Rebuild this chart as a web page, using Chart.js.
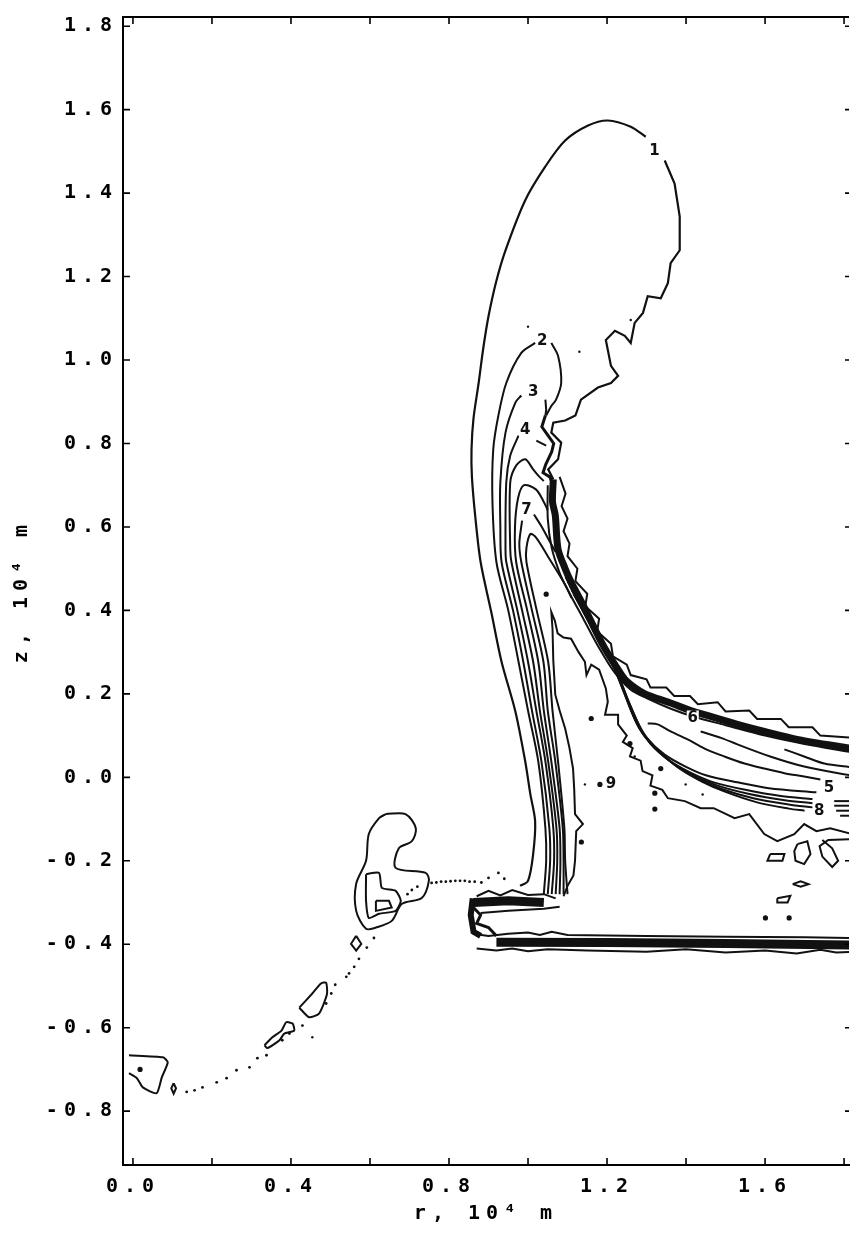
<!DOCTYPE html>
<html>
<head>
<meta charset="utf-8">
<script src="https://cdn.jsdelivr.net/npm/chart.js@4.4.0/dist/chart.umd.min.js"></script>
<style>
  html, body { margin: 0; padding: 0; background: #fff; }
  canvas { display: block; }
</style>
</head>
<body>
<canvas id="plot" width="853" height="1235"></canvas>
<script>
// axis ticks (r and z in 10^4 m)
const rTicks = [0, 0.4, 0.8, 1.2, 1.6];
const rMinorTicks = [0, 0.2, 0.4, 0.6, 0.8, 1.0, 1.2, 1.4, 1.6, 1.8];
const zTicks = [-0.8, -0.6, -0.4, -0.2, 0, 0.2, 0.4, 0.6, 0.8, 1.0, 1.2, 1.4, 1.6, 1.8];

// contour 1, outer plume
const c1a = [[0.98,-0.26],[1.0,-0.248],[1.013,-0.184],[1.018,-0.105],[1.006,-0.041],[0.993,0.038],[0.968,0.158],[0.933,0.277],[0.907,0.396],[0.88,0.516],[0.867,0.62],[0.858,0.72],[0.857,0.786],[0.862,0.86],[0.875,0.945],[0.887,1.03],[0.90,1.105],[0.92,1.19],[0.943,1.263],[0.993,1.383],[1.044,1.464],[1.094,1.526],[1.152,1.562],[1.202,1.574],[1.26,1.559],[1.298,1.535]];
const c1b = [[1.346,1.478],[1.371,1.423],[1.384,1.344],[1.384,1.263],[1.361,1.232],[1.354,1.184],[1.336,1.148],[1.303,1.153],[1.291,1.113],[1.27,1.089],[1.26,1.041],[1.245,1.058],[1.22,1.07],[1.197,1.048],[1.21,0.986],[1.228,0.962],[1.21,0.945],[1.177,0.934],[1.134,0.905],[1.12,0.867],[1.094,0.855],[1.064,0.85],[1.059,0.826],[1.084,0.802],[1.076,0.762],[1.051,0.738],[1.064,0.714]];

// plume bundle, contours 2..8
const c2a = [[1.04,-0.28],[1.046,-0.2],[1.044,-0.122],[1.026,0.038],[1.0,0.16],[0.976,0.277],[0.95,0.4],[0.92,0.516],[0.91,0.66],[0.912,0.786],[0.925,0.867],[0.945,0.945],[0.983,1.017],[1.018,1.041]];
const c2b = [[1.059,1.041],[1.076,1.01],[1.084,0.945],[1.071,0.905],[1.059,0.89],[1.046,0.867]];
const c3a = [[1.05,-0.28],[1.056,-0.2],[1.054,-0.122],[1.034,0.038],[1.01,0.16],[0.988,0.277],[0.962,0.4],[0.933,0.516],[0.93,0.6],[0.93,0.707],[0.943,0.826],[0.968,0.898],[0.983,0.915]];
const c3b = [[1.044,0.905],[1.046,0.881],[1.044,0.867]];
const c4a = [[1.06,-0.28],[1.066,-0.2],[1.064,-0.122],[1.044,0.038],[1.021,0.16],[1.0,0.277],[0.973,0.4],[0.945,0.516],[0.943,0.547],[0.945,0.707],[0.955,0.771],[0.976,0.819]];
const c4b = [[1.021,0.807],[1.046,0.795]];
const c5 = [[1.07,-0.28],[1.074,-0.2],[1.072,-0.122],[1.051,0.038],[1.03,0.16],[1.013,0.277],[0.985,0.4],[0.958,0.516],[0.955,0.547],[0.955,0.707],[0.97,0.747],[0.993,0.762],[1.013,0.738],[1.026,0.723],[1.04,0.71]];
const c6 = [[1.08,-0.28],[1.082,-0.2],[1.08,-0.122],[1.059,0.038],[1.04,0.16],[1.026,0.277],[0.998,0.4],[0.97,0.516],[0.967,0.6],[0.975,0.67],[0.99,0.70],[1.02,0.69],[1.04,0.66],[1.05,0.64]];
const c7a = [[1.09,-0.28],[1.09,-0.2],[1.088,-0.122],[1.069,0.038],[1.05,0.16],[1.039,0.277],[1.01,0.4],[0.983,0.516],[0.978,0.56],[0.985,0.615]];
const c7b = [[1.015,0.63],[1.035,0.6],[1.055,0.565],[1.07,0.54]];
const c8 = [[1.10,-0.28],[1.094,-0.2],[1.092,-0.122],[1.076,0.038],[1.062,0.16],[1.051,0.277],[1.022,0.4],[0.996,0.516],[0.996,0.55],[1.006,0.583],[1.02,0.575],[1.05,0.53],[1.076,0.49],[1.095,0.46],[1.11,0.43]];
const jagTop = [[1.044,0.867],[1.035,0.84],[1.05,0.82],[1.065,0.80],[1.06,0.78],[1.045,0.75],[1.038,0.73],[1.055,0.72],[1.064,0.70],[1.062,0.66]];

// dense upper arc
const bandCore = [[1.064,0.714],[1.062,0.66],[1.069,0.628],[1.076,0.547],[1.094,0.5],[1.109,0.468],[1.13,0.43],[1.152,0.389],[1.177,0.34],[1.195,0.308],[1.22,0.27],[1.245,0.235],[1.27,0.215],[1.296,0.2],[1.33,0.188],[1.361,0.178],[1.412,0.16],[1.462,0.146],[1.53,0.127],[1.598,0.11],[1.681,0.091],[1.82,0.069]];
const bandTop = [[1.08,0.72],[1.095,0.68],[1.085,0.65],[1.10,0.62],[1.09,0.59],[1.105,0.56],[1.10,0.53],[1.125,0.50],[1.12,0.47],[1.15,0.44],[1.145,0.41],[1.18,0.38],[1.175,0.35],[1.21,0.32],[1.215,0.29],[1.25,0.27],[1.26,0.245],[1.30,0.235],[1.31,0.215],[1.35,0.215],[1.37,0.195],[1.41,0.195],[1.43,0.175],[1.48,0.18],[1.50,0.158],[1.56,0.16],[1.58,0.14],[1.64,0.14],[1.66,0.12],[1.72,0.12],[1.74,0.10],[1.82,0.095]];
const bandLow = [[1.05,0.70],[1.05,0.62],[1.06,0.55],[1.08,0.49],[1.10,0.45],[1.14,0.38],[1.18,0.31],[1.22,0.25],[1.26,0.21],[1.30,0.19],[1.36,0.165],[1.42,0.145],[1.50,0.125],[1.60,0.1],[1.70,0.08],[1.82,0.06]];

// lower arc family (contours 5..8 right side)
const f1 = [[1.095,0.48],[1.135,0.41],[1.175,0.34],[1.21,0.28],[1.24,0.21],[1.27,0.14],[1.30,0.095],[1.345,0.055],[1.40,0.025],[1.45,0.005],[1.53,-0.012],[1.61,-0.026],[1.73,-0.036]];
const f2 = [[1.10,0.47],[1.14,0.40],[1.18,0.33],[1.215,0.27],[1.245,0.20],[1.275,0.13],[1.31,0.08],[1.355,0.042],[1.41,0.012],[1.47,-0.012],[1.55,-0.03],[1.64,-0.045],[1.72,-0.052]];
const f3 = [[1.105,0.46],[1.145,0.39],[1.185,0.32],[1.22,0.26],[1.25,0.19],[1.28,0.12],[1.32,0.072],[1.365,0.035],[1.42,0.004],[1.48,-0.02],[1.56,-0.04],[1.65,-0.055],[1.72,-0.062]];
const f4 = [[1.11,0.45],[1.15,0.38],[1.19,0.31],[1.225,0.25],[1.255,0.18],[1.29,0.11],[1.33,0.063],[1.375,0.027],[1.43,-0.004],[1.49,-0.028],[1.57,-0.05],[1.66,-0.065],[1.72,-0.072]];
const f5 = [[1.115,0.44],[1.155,0.37],[1.195,0.30],[1.23,0.24],[1.26,0.17],[1.295,0.10],[1.34,0.055],[1.385,0.02],[1.44,-0.01],[1.50,-0.035],[1.58,-0.06],[1.66,-0.075],[1.70,-0.08]];
const tails = [[[1.775,-0.057],[1.82,-0.057]],[[1.775,-0.068],[1.82,-0.068]],[[1.78,-0.08],[1.82,-0.08]],[[1.79,-0.092],[1.82,-0.092]]];
const m1 = [[1.303,0.129],[1.328,0.127],[1.361,0.11],[1.404,0.091],[1.447,0.069],[1.497,0.05],[1.548,0.033],[1.598,0.021],[1.649,0.01],[1.699,0.002],[1.74,-0.005]];
const m2 = [[1.437,0.11],[1.49,0.094],[1.53,0.079],[1.613,0.05],[1.699,0.026],[1.82,0.004]];
const m3 = [[1.649,0.067],[1.699,0.05],[1.75,0.033],[1.82,0.024]];

// jagged inner contour
const jag = [[1.09,-0.285],[1.10,-0.26],[1.115,-0.235],[1.119,-0.2],[1.122,-0.129],[1.139,-0.112],[1.119,-0.088],[1.117,-0.03],[1.114,0.021],[1.105,0.07],[1.094,0.117],[1.08,0.16],[1.069,0.198],[1.064,0.28],[1.062,0.356],[1.059,0.396],[1.068,0.375],[1.075,0.345],[1.09,0.335],[1.109,0.332],[1.128,0.3],[1.144,0.277],[1.148,0.245],[1.16,0.27],[1.18,0.258],[1.197,0.213],[1.202,0.181],[1.195,0.15],[1.228,0.15],[1.228,0.127],[1.25,0.10],[1.24,0.085],[1.265,0.07],[1.258,0.05],[1.285,0.04],[1.29,0.015],[1.315,0.005],[1.31,-0.02],[1.34,-0.03],[1.354,-0.05],[1.397,-0.057],[1.437,-0.074],[1.47,-0.074],[1.523,-0.098],[1.56,-0.088],[1.598,-0.136],[1.631,-0.153],[1.674,-0.136],[1.699,-0.112],[1.73,-0.129],[1.765,-0.122],[1.82,-0.136]];
const loopB = [[1.682,-0.16],[1.707,-0.153],[1.715,-0.184],[1.699,-0.208],[1.677,-0.2],[1.674,-0.177],[1.682,-0.16]];
const loopC = [[1.613,-0.184],[1.649,-0.184],[1.644,-0.2],[1.606,-0.2],[1.613,-0.184]];
const loopD = [[1.745,-0.15],[1.77,-0.17],[1.785,-0.2],[1.77,-0.215],[1.745,-0.19],[1.738,-0.165],[1.76,-0.15],[1.82,-0.148]];
const loopE = [[1.67,-0.256],[1.69,-0.249],[1.71,-0.256],[1.69,-0.262],[1.67,-0.256]];
const loopF = [[1.631,-0.29],[1.664,-0.284],[1.657,-0.3],[1.631,-0.3],[1.631,-0.29]];

// base structures
const shelfCore = [[0.862,-0.30],[0.95,-0.296],[1.04,-0.30]];
const shelfTop = [[0.87,-0.285],[0.9,-0.272],[0.93,-0.283],[0.96,-0.27],[1.0,-0.282],[1.04,-0.28],[1.07,-0.29]];
const shelfLow = [[0.88,-0.325],[0.95,-0.32],[1.04,-0.315],[1.08,-0.31]];
const baseLeft = [[0.86,-0.29],[0.855,-0.33],[0.862,-0.37],[0.88,-0.38]];
const baseMid = [[0.86,-0.31],[0.88,-0.33],[0.87,-0.35],[0.9,-0.36],[0.92,-0.38]];
const floorCore = [[0.92,-0.395],[1.2,-0.396],[1.5,-0.398],[1.82,-0.402]];
const floorTop = [[0.86,-0.375],[0.9,-0.38],[0.95,-0.375],[1.0,-0.372],[1.03,-0.378],[1.06,-0.37],[1.1,-0.378],[1.3,-0.38],[1.5,-0.382],[1.7,-0.383],[1.82,-0.385]];
const floorLow = [[0.87,-0.41],[0.92,-0.415],[0.96,-0.41],[1.0,-0.417],[1.05,-0.412],[1.15,-0.415],[1.3,-0.418],[1.4,-0.412],[1.5,-0.42],[1.6,-0.415],[1.68,-0.422],[1.74,-0.413],[1.78,-0.42],[1.82,-0.418]];

// left blobs
const blobOuter = [[0.64,-0.088],[0.69,-0.088],[0.716,-0.122],[0.706,-0.153],[0.673,-0.17],[0.665,-0.217],[0.741,-0.229],[0.749,-0.248],[0.731,-0.289],[0.681,-0.303],[0.655,-0.344],[0.615,-0.36],[0.59,-0.363],[0.565,-0.32],[0.565,-0.255],[0.59,-0.2],[0.597,-0.136],[0.623,-0.098],[0.64,-0.088]];
const blobInner = [[0.59,-0.232],[0.623,-0.229],[0.63,-0.265],[0.665,-0.272],[0.678,-0.296],[0.665,-0.32],[0.623,-0.327],[0.597,-0.337],[0.59,-0.296],[0.59,-0.232]];
const blobCore = [[0.615,-0.296],[0.648,-0.296],[0.655,-0.312],[0.615,-0.32],[0.615,-0.296]];
const diamond1 = [[0.565,-0.38],[0.578,-0.399],[0.565,-0.415],[0.552,-0.399],[0.565,-0.38]];
const blobA = [[0.421,-0.552],[0.454,-0.518],[0.476,-0.494],[0.489,-0.492],[0.491,-0.52],[0.471,-0.566],[0.446,-0.575],[0.421,-0.552]];
const blobB = [[0.333,-0.642],[0.353,-0.623],[0.376,-0.607],[0.388,-0.587],[0.404,-0.59],[0.408,-0.607],[0.383,-0.614],[0.371,-0.63],[0.34,-0.649],[0.333,-0.642]];
const originBlob = [[-0.01,-0.666],[0.076,-0.671],[0.088,-0.683],[0.073,-0.719],[0.06,-0.757],[0.025,-0.743],[0.01,-0.721],[-0.01,-0.709]];
const diamond2 = [[0.103,-0.733],[0.109,-0.745],[0.103,-0.758],[0.097,-0.745],[0.103,-0.733]];

// dotted path and isolated points
const dotsPath = [[0.756,-0.253],[0.768,-0.252],[0.78,-0.25],[0.792,-0.25],[0.804,-0.249],[0.816,-0.248],[0.828,-0.248],[0.84,-0.248],[0.852,-0.25],[0.865,-0.25],[0.882,-0.252],[0.9,-0.241],[0.925,-0.229],[0.94,-0.243],[0.72,-0.262],[0.706,-0.27],[0.695,-0.28],[0.61,-0.385],[0.592,-0.408],[0.572,-0.435],[0.56,-0.454],[0.547,-0.47],[0.54,-0.478],[0.512,-0.497],[0.502,-0.518],[0.489,-0.542],[0.429,-0.595],[0.396,-0.614],[0.378,-0.63],[0.338,-0.666],[0.315,-0.673],[0.295,-0.695],[0.262,-0.702],[0.237,-0.721],[0.212,-0.731],[0.176,-0.743],[0.156,-0.75],[0.136,-0.754]];
const bigDots = [[1.046,0.439],[1.135,-0.155],[1.182,-0.017],[1.16,0.141],[1.258,0.081],[1.336,0.021],[1.321,-0.038],[1.321,-0.076],[1.601,-0.337],[1.661,-0.337],[0.018,-0.70]];
const smallDots = [[1.144,-0.017],[1.26,1.096],[1.399,-0.017],[1.442,-0.041],[0.454,-0.623],[1.0,1.08],[1.13,1.02],[1.27,0.05]];

// contour labels
const labelText = ['1', '2', '3', '4', '7', '6', '5', '8', '9'];
const labelR = [1.32, 1.036, 1.013, 0.993, 0.996, 1.417, 1.762, 1.737, 1.21];
const labelZ = [1.50, 1.046, 0.922, 0.833, 0.64, 0.141, -0.026, -0.081, -0.017];

const ink = '#111';
const mono = '"DejaVu Sans Mono", monospace';

function line(pts, w = 2, tension = 0) {
  return {
    data: pts.map(([x, y]) => ({ x, y })),
    showLine: true, borderColor: ink, borderWidth: w,
    pointRadius: 0, tension, fill: false
  };
}
function dots(pts, r) {
  return {
    data: pts.map(([x, y]) => ({ x, y })),
    showLine: false, pointRadius: r, pointBackgroundColor: ink,
    pointBorderWidth: 0
  };
}

const datasets = [
  line(c1a, 2.2, 0.3), line(c1b, 2.2),
  line(c2a, 2, 0.3), line(c2b, 2, 0.3),
  line(c3a, 2, 0.3), line(c3b, 2),
  line(c4a, 2, 0.3), line(c4b, 2),
  line(c5, 2, 0.3), line(c6, 2, 0.3), line(c7a, 2, 0.3), line(c7b, 2, 0.3), line(c8, 2, 0.3),
  line(jagTop, 3),
  line(bandCore, 7, 0.3), line(bandTop, 2), line(bandLow, 2, 0.3),
  line(f1, 2, 0.3), line(f2, 2, 0.3), line(f3, 2, 0.3), line(f4, 2, 0.3), line(f5, 2, 0.3),
  ...tails.map(t => line(t, 2)),
  line(m1, 2, 0.3), line(m2, 2, 0.3), line(m3, 2, 0.3),
  line(jag, 2),
  line(loopB, 2), line(loopC, 2), line(loopD, 2), line(loopE, 2), line(loopF, 2),
  line(shelfCore, 9), line(shelfTop, 2), line(shelfLow, 2), line(baseLeft, 6), line(baseMid, 3),
  line(floorCore, 9), line(floorTop, 2), line(floorLow, 2),
  line(blobOuter, 2, 0.3), line(blobInner, 2, 0.2), line(blobCore, 2), line(diamond1, 2),
  line(blobA, 2, 0.2), line(blobB, 2, 0.2), line(originBlob, 2, 0.2), line(diamond2, 2),
  dots(dotsPath, 1.4), dots(bigDots, 2.6), dots(smallDots, 1.2)
];

const spacing = {
  id: 'spacing',
  beforeUpdate(chart) { chart.ctx.letterSpacing = '6px'; },
  beforeDraw(chart) { chart.ctx.letterSpacing = '6px'; }
};

const frame = {
  id: 'frame',
  afterDatasetsDraw(chart) {
    const { ctx, chartArea: a, scales: { x, y } } = chart;
    ctx.save();
    ctx.letterSpacing = '0px';
    ctx.strokeStyle = '#000';
    ctx.lineWidth = 2;
    ctx.beginPath();
    ctx.moveTo(a.left, a.top);
    ctx.lineTo(a.right, a.top);
    ctx.stroke();
    ctx.lineWidth = 1.6;
    ctx.beginPath();
    rMinorTicks.forEach(v => {
      const px = x.getPixelForValue(v);
      ctx.moveTo(px, a.bottom); ctx.lineTo(px, a.bottom - 7);
      ctx.moveTo(px, a.top); ctx.lineTo(px, a.top + 7);
    });
    zTicks.forEach(v => {
      const py = y.getPixelForValue(v);
      ctx.moveTo(a.left, py); ctx.lineTo(a.left + 7, py);
      ctx.moveTo(a.right, py); ctx.lineTo(a.right - 4, py);
    });
    ctx.stroke();

    ctx.font = 'bold 15px "DejaVu Sans", sans-serif';
    ctx.textAlign = 'center';
    ctx.textBaseline = 'middle';
    labelText.forEach((t, i) => {
      const px = x.getPixelForValue(labelR[i]);
      const py = y.getPixelForValue(labelZ[i]);
      ctx.fillStyle = '#fff';
      ctx.fillRect(px - 6, py - 8, 12, 16);
      ctx.fillStyle = ink;
      ctx.fillText(t, px, py);
    });
    ctx.restore();
  }
};

new Chart(document.getElementById('plot'), {
  type: 'scatter',
  data: { datasets },
  options: {
    responsive: false,
    animation: false,
    devicePixelRatio: 1,
    events: [],
    layout: { padding: { left: 0, right: 1, top: 13, bottom: 0 } },
    plugins: { legend: { display: false }, tooltip: { enabled: false } },
    scales: {
      x: {
        type: 'linear', min: -0.0252, max: 1.8125,
        afterBuildTicks: s => { s.ticks = rTicks.map(v => ({ value: v })); },
        afterFit: s => { s.height = 70; },
        grid: { display: false, drawTicks: false },
        border: { display: true, color: '#000', width: 2 },
        ticks: {
          color: '#000', padding: 10, maxRotation: 0,
          font: { family: mono, size: 20, weight: 'bold' },
          callback: v => v.toFixed(1)
        },
        title: {
          display: true, text: 'r, 10⁴ m', color: '#000',
          font: { family: mono, size: 20, weight: 'bold' },
          padding: { top: 0, bottom: 9 }
        }
      },
      y: {
        type: 'linear', min: -0.929, max: 1.822,
        afterBuildTicks: s => { s.ticks = zTicks.map(v => ({ value: v })); },
        afterFit: s => { s.width = 123; },
        grid: { display: false, drawTicks: false },
        border: { display: true, color: '#000', width: 2 },
        ticks: {
          color: '#000', padding: 5,
          font: { family: mono, size: 20, weight: 'bold' },
          callback: v => v.toFixed(1)
        },
        title: {
          display: true, text: 'z, 10⁴ m', color: '#000',
          font: { family: mono, size: 20, weight: 'bold' },
          padding: { top: 10, bottom: 0 }
        }
      }
    }
  },
  plugins: [spacing, frame]
});
</script>
</body>
</html>
